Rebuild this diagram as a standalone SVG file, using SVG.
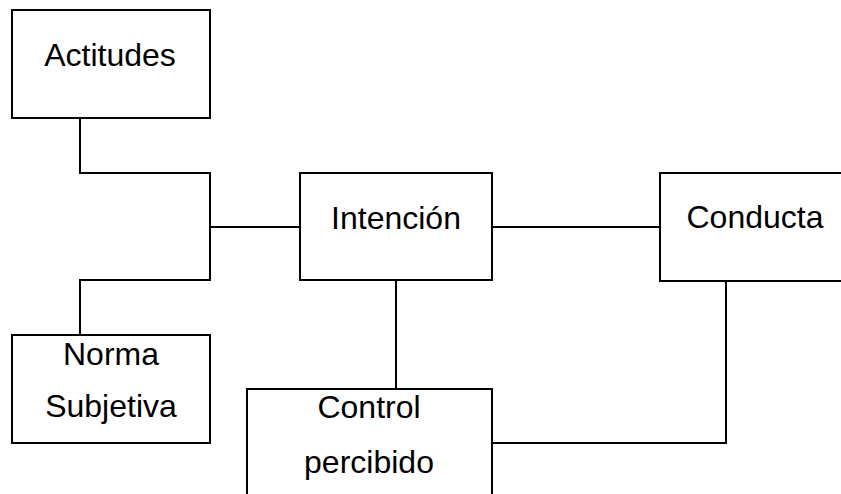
<svg xmlns="http://www.w3.org/2000/svg" width="841" height="494" viewBox="0 0 841 494">
<style>
.box{fill:#fff;stroke:#000;stroke-width:2}
.ln{fill:none;stroke:#000;stroke-width:2}
text{font-family:"Liberation Sans",Arial,sans-serif;font-size:32px;fill:#000;text-anchor:middle}
</style>
<rect width="841" height="494" fill="#fff"/>
<g id="connectors">
<polyline class="ln" points="80,118 80,173 210,173 210,280 80,280 80,335"/>
<line class="ln" x1="210" y1="227" x2="300" y2="227"/>
<line class="ln" x1="492" y1="227" x2="660" y2="227"/>
<line class="ln" x1="396" y1="280" x2="396" y2="389"/>
<polyline class="ln" points="726,281 726,443 492,443"/>
</g>
<g id="actitudes">
<rect class="box" x="12" y="10" width="198" height="108"/>
<text x="110" y="66">Actitudes</text>
</g>
<g id="norma">
<rect class="box" x="12" y="335" width="198" height="108"/>
<text x="111" y="365">Norma</text>
<text x="111" y="417">Subjetiva</text>
</g>
<g id="intencion">
<rect class="box" x="300" y="173" width="192" height="107"/>
<text x="396" y="229">Intención</text>
</g>
<g id="conducta">
<rect class="box" x="660" y="173" width="192" height="108"/>
<text x="755" y="228">Conducta</text>
</g>
<g id="control">
<rect class="box" x="247" y="389" width="245" height="120"/>
<text x="369" y="418">Control</text>
<text x="369" y="473">percibido</text>
</g>
</svg>
